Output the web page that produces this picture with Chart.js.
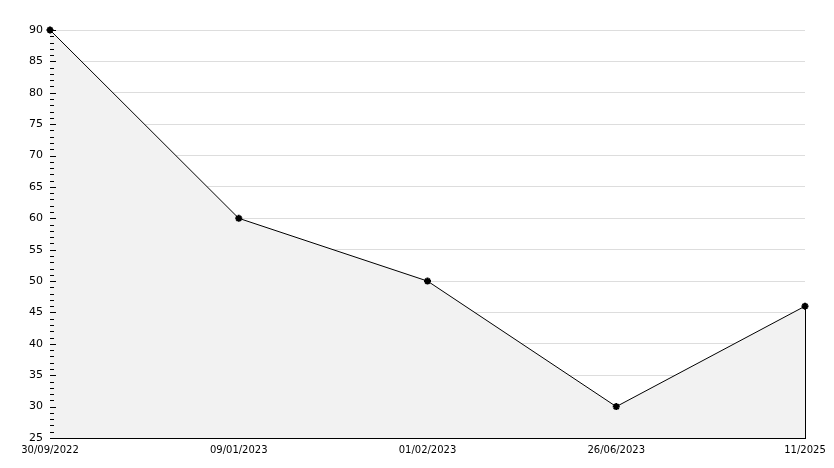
<!DOCTYPE html>
<html>
<head>
<meta charset="utf-8">
<script src="https://cdn.jsdelivr.net/npm/chart.js@4/dist/chart.umd.min.js"></script>
<style>
html,body{margin:0;padding:0;background:#fff;}
#wrap{width:834px;height:468px;position:relative;}
</style>
</head>
<body>
<div id="wrap"><canvas id="c" width="834" height="468"></canvas></div>
<script>
const categories = ["30/09/2022", "09/01/2023", "01/02/2023", "26/06/2023", "11/2025"];
const values = [90, 60, 50, 30, 46];
const yMin = 25, yMax = 90, yStep = 5;

const minorTicks = {
  id: 'minorTicks',
  afterDatasetsDraw(chart) {
    const ctx = chart.ctx, y = chart.scales.y, x = chart.scales.x;
    const left = chart.chartArea.left;
    ctx.save();
    ctx.strokeStyle = '#000';
    ctx.lineWidth = 1;
    for (let v = yMin; v <= yMax; v++) {
      const py = Math.round(y.getPixelForValue(v)) + 0.5;
      const len = (v % yStep === 0) ? 6 : 4;
      ctx.beginPath();
      ctx.moveTo(left, py);
      ctx.lineTo(left + len, py);
      ctx.stroke();
    }
    const li = values.length - 1;
    const px = Math.round(x.getPixelForValue(li)) + 0.5;
    ctx.beginPath();
    ctx.moveTo(px, y.getPixelForValue(values[li]));
    ctx.lineTo(px, y.getPixelForValue(yMin));
    ctx.stroke();
    ctx.restore();
  }
};

new Chart(document.getElementById('c'), {
  type: 'line',
  data: {
    labels: categories,
    datasets: [{
      data: values,
      borderColor: '#000',
      borderWidth: 1,
      backgroundColor: '#f2f2f2',
      fill: 'start',
      tension: 0,
      clip: false,
      pointStyle: 'star',
      pointRadius: 3.5,
      pointBorderWidth: 2,
      pointBorderColor: '#000',
      pointBackgroundColor: '#000'
    }]
  },
  options: {
    responsive: false,
    animation: false,
    devicePixelRatio: 1,
    layout: { padding: { top: 30, right: 29, left: 0, bottom: 0 } },
    plugins: { legend: { display: false }, tooltip: { enabled: false } },
    scales: {
      x: {
        offset: false,
        grid: { display: false, drawTicks: false },
        border: { color: '#000', width: 1 },
        ticks: { color: '#000', font: { family: 'DejaVu Sans', size: 10 }, maxRotation: 0, autoSkip: false, padding: 6 },
        afterFit(s) { s.height = 30; }
      },
      y: {
        min: yMin, max: yMax,
        grid: { color: '#dddddd', drawTicks: false },
        border: { color: '#000', width: 1 },
        ticks: { stepSize: yStep, color: '#000', font: { family: 'DejaVu Sans', size: 11 }, padding: 7 },
        afterFit(s) { s.width = 50; }
      }
    }
  },
  plugins: [minorTicks]
});
</script>
</body>
</html>
